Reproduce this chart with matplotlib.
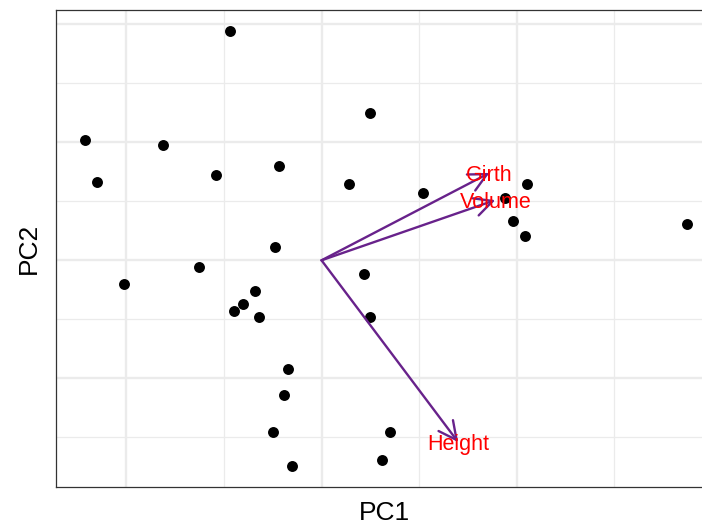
import matplotlib.pyplot as plt

# PCA scores (PC1, PC2)
pc1 = [-0.47, -1.21, -0.81, -1.15, -0.54, -0.22, 0.25, 0.14, 0.52, 0.94,
       1.05, 0.98, 1.04, 1.87, -0.24, -0.63, -1.01, 0.22, -0.34, -0.40,
       -0.45, -0.32, 0.25, -0.17, -0.19, -0.25, 0.35, -0.15, 0.31]
pc2 = [1.94, 1.02, 0.98, 0.66, 0.72, 0.80, 1.25, 0.65, 0.57, 0.53,
       0.65, 0.33, 0.21, 0.31, 0.11, -0.06, -0.20, -0.12, -0.26, -0.37,
       -0.43, -0.48, -0.48, -0.92, -1.14, -1.45, -1.45, -1.74, -1.69]

# loadings
var_names = ["Girth", "Volume", "Height"]
load_x = [0.86, 0.89, 0.70]
load_y = [0.74, 0.51, -1.54]

fig = plt.figure(figsize=(7.02, 5.24), dpi=100)
ax = fig.add_axes([56 / 702, 37 / 524, 656 / 702, 477 / 524])

ax.set_xlim(-1.36, 2.0)
ax.set_ylim(-1.92, 2.12)

# grid
for v in [-1, 0, 1]:
    ax.axvline(v, color="#ebebeb", lw=1.7, zorder=0)
for v in [-0.5, 0.5, 1.5]:
    ax.axvline(v, color="#ebebeb", lw=0.9, zorder=0)
for v in [-1, 0, 1, 2]:
    ax.axhline(v, color="#ebebeb", lw=1.7, zorder=0)
for v in [-1.5, -0.5, 0.5, 1.5]:
    ax.axhline(v, color="#ebebeb", lw=0.9, zorder=0)

ax.scatter(pc1, pc2, s=62, color="black", zorder=3, linewidths=0)

for name, lx, ly in zip(var_names, load_x, load_y):
    ax.annotate("", xy=(lx, ly), xytext=(0, 0),
                arrowprops=dict(arrowstyle="->,head_length=13,head_width=6.5",
                                mutation_scale=1, color="#68228B", lw=1.7,
                                shrinkA=0, shrinkB=0),
                zorder=4)
    ax.annotate(name, xy=(lx, ly), xytext=(0, -2), textcoords="offset points",
                color="red", fontsize=15.5, ha="center", va="center",
                family="Liberation Sans", zorder=5)

ax.set_xticks([])
ax.set_yticks([])
for side in ["left", "top", "bottom", "right"]:
    ax.spines[side].set_color("#333333")
    ax.spines[side].set_linewidth(0.9)

ax.set_xlabel("PC1", fontsize=19, family="Liberation Sans", labelpad=10)
ax.set_ylabel("PC2", fontsize=19, family="Liberation Sans", labelpad=11)

fig.savefig("out.png", dpi=100)
